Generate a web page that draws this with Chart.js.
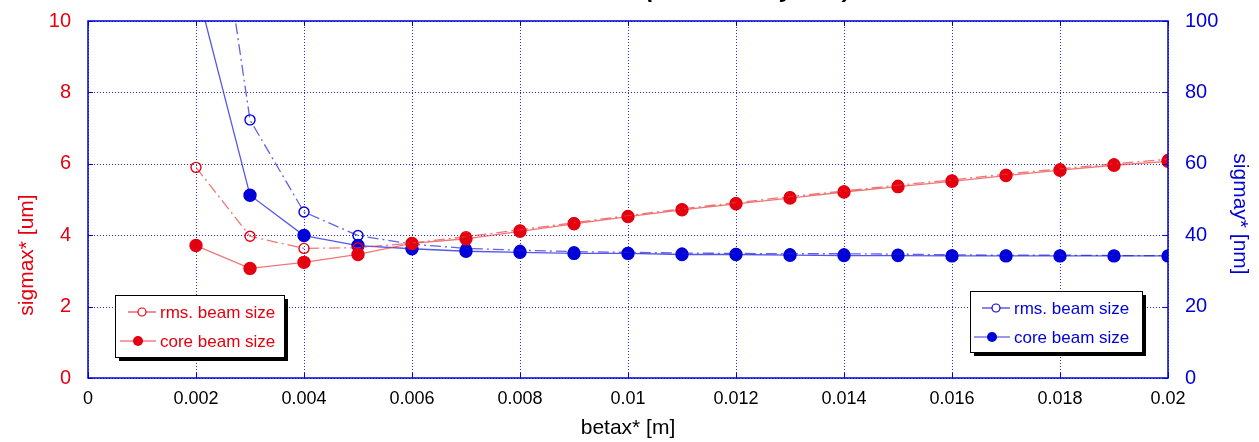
<!DOCTYPE html>
<html>
<head>
<meta charset="utf-8">
<script src="https://cdn.jsdelivr.net/npm/chart.js@4.4.1/dist/chart.umd.min.js"></script>
<style>
  html, body { margin: 0; padding: 0; background: #fff; }
  #wrap { width: 1259px; height: 442px; }
</style>
</head>
<body>
<div id="wrap"><canvas id="c" width="1259" height="442"></canvas></div>
<script>
// betax* [m]
const betax = [0.002, 0.003, 0.004, 0.005, 0.006, 0.007, 0.008, 0.009, 0.010, 0.011,
               0.012, 0.013, 0.014, 0.015, 0.016, 0.017, 0.018, 0.019, 0.020]

// sigmax* [um] (left axis)
const sigxRms  = [5.90, 3.97, 3.63, 3.65, 3.78, 3.96, 4.15, 4.35, 4.55, 4.74,
                  4.91, 5.08, 5.24, 5.40, 5.55, 5.71, 5.86, 6.00, 6.13]
const sigxCore = [3.71, 3.07, 3.24, 3.46, 3.77, 3.90, 4.11, 4.32, 4.52, 4.71,
                  4.88, 5.04, 5.21, 5.36, 5.51, 5.67, 5.82, 5.96, 6.07]

// sigmay* [nm] (right axis)
const sigyRms  = [175, 72.3, 46.5, 39.9, 37.5, 36.3, 35.8, 35.4, 35.2, 35.0,
                  34.9, 34.8, 34.8, 34.7, 34.5, 34.4, 34.4, 34.3, 34.3]
const sigyCore = [110, 51.2, 39.9, 37.1, 36.2, 35.5, 35.2, 34.9, 34.9, 34.6,
                  34.6, 34.4, 34.3, 34.3, 34.2, 34.2, 34.2, 34.2, 34.2]

const legendLabels = ['rms. beam size', 'core beam size']
const xTitle = 'betax* [m]'
const yLeftTitle = 'sigmax* [um]'
const yRightTitle = 'sigmay* [nm]'

const RED = '#e4000f'
const BLUE = '#0000d8'
const GRID = '#2a2af0'
const FONT = '"Liberation Sans", Arial, sans-serif'

const pts = (ys) => betax.map((x, i) => ({ x: x, y: ys[i] }))

function series (label, ys, axis, color, lineColor, open) {
  return {
    label: label,
    data: pts(ys),
    yAxisID: axis,
    borderColor: lineColor,
    borderWidth: 1.3,
    borderDash: open ? [11, 4, 2, 4] : [],
    pointRadius: open ? 5 : 6,
    pointBorderWidth: 1.4,
    pointBorderColor: color,
    pointBackgroundColor: open ? 'rgba(255,255,255,0)' : color,
    pointHoverRadius: 5,
    tension: 0,
    fill: false
  }
}

// dotted grid, frame, axis titles, partial title and the two boxed legends
const decor = {
  id: 'decor',
  beforeDatasetsDraw (chart) {
    const { ctx, chartArea: a } = chart
    const xs = chart.scales.x, yl = chart.scales.yl
    ctx.save()
    ctx.strokeStyle = GRID
    ctx.lineWidth = 1
    ctx.setLineDash([1, 2])
    xs.ticks.forEach(t => {
      const px = Math.round(xs.getPixelForValue(t.value)) + 0.5
      ctx.beginPath(); ctx.moveTo(px, a.top); ctx.lineTo(px, a.bottom); ctx.stroke()
    })
    yl.ticks.forEach(t => {
      const py = Math.round(yl.getPixelForValue(t.value)) + 0.5
      ctx.beginPath(); ctx.moveTo(a.left, py); ctx.lineTo(a.right, py); ctx.stroke()
    })
    ctx.restore()
  },
  afterDatasetsDraw (chart) {
    const { ctx, chartArea: a } = chart
    ctx.save()
    ctx.strokeStyle = BLUE
    ctx.lineWidth = 1.5
    ctx.strokeRect(a.left, a.top, a.right - a.left, a.bottom - a.top)

    // small inside tick marks
    ctx.lineWidth = 1
    const xs = chart.scales.x, yl = chart.scales.yl
    xs.ticks.forEach(t => {
      const px = Math.round(xs.getPixelForValue(t.value)) + 0.5
      ctx.beginPath(); ctx.moveTo(px, a.bottom); ctx.lineTo(px, a.bottom - 5); ctx.stroke()
      ctx.beginPath(); ctx.moveTo(px, a.top); ctx.lineTo(px, a.top + 5); ctx.stroke()
    })
    yl.ticks.forEach(t => {
      const py = Math.round(yl.getPixelForValue(t.value)) + 0.5
      ctx.beginPath(); ctx.moveTo(a.left, py); ctx.lineTo(a.left + 5, py); ctx.stroke()
      ctx.beginPath(); ctx.moveTo(a.right, py); ctx.lineTo(a.right - 5, py); ctx.stroke()
    })
    ctx.restore()
  },
  afterDraw (chart) {
    const { ctx } = chart
    ctx.save()

    // title mostly outside the picture, only descenders show
    ctx.fillStyle = '#000'
    ctx.font = 'italic bold 24px ' + FONT
    ctx.textBaseline = 'alphabetic'
    ctx.textAlign = 'right'
    ctx.fillText('Beam size ', 651, -3)
    ctx.textAlign = 'left'
    ctx.fillText('(const. betay* 0.4)', 646, -3)

    // x title
    ctx.font = '21px ' + FONT
    ctx.textAlign = 'center'
    ctx.textBaseline = 'middle'
    ctx.fillText(xTitle, 628, 428)

    // left y title
    ctx.fillStyle = RED
    ctx.save()
    ctx.translate(27, 255)
    ctx.rotate(-Math.PI / 2)
    ctx.fillText(yLeftTitle, 0, 0)
    ctx.restore()

    // right y title
    ctx.fillStyle = BLUE
    ctx.save()
    ctx.translate(1240, 214)
    ctx.rotate(Math.PI / 2)
    ctx.fillText(yRightTitle, 0, 0)
    ctx.restore()

    drawLegend(ctx, 115, 295, 169, 62, RED, 'rgba(228,0,15,0.75)', 160)
    drawLegend(ctx, 970, 291, 172, 61, BLUE, 'rgba(0,0,216,0.8)', 1014)
    ctx.restore()
  }
}

function drawLegend (ctx, x, y, w, h, color, lineColor, textX) {
  ctx.fillStyle = '#000'
  ctx.fillRect(x + 4, y + 4, w, h)
  ctx.fillStyle = '#fff'
  ctx.fillRect(x, y, w, h)
  ctx.strokeStyle = '#000'
  ctx.lineWidth = 1
  ctx.strokeRect(x + 0.5, y + 0.5, w, h)

  const rows = [y + 17, y + 46]
  ctx.font = '17px ' + FONT
  ctx.textAlign = 'left'
  ctx.textBaseline = 'middle'
  rows.forEach((ry, i) => {
    const open = i === 0
    const x0 = open ? textX - 32 : textX - 40
    ctx.strokeStyle = lineColor
    ctx.lineWidth = 1.2
    ctx.beginPath(); ctx.moveTo(x0, ry); ctx.lineTo(textX - 4, ry); ctx.stroke()
    const cx = (x0 + textX - 4) / 2
    ctx.beginPath()
    ctx.arc(cx, ry, open ? 4 : 5, 0, Math.PI * 2)
    if (open) {
      ctx.fillStyle = '#fff'; ctx.fill()
      ctx.strokeStyle = color; ctx.stroke()
    } else {
      ctx.fillStyle = color; ctx.fill()
    }
    ctx.fillStyle = color
    ctx.fillText(legendLabels[i], textX, ry + 1)
  })
}

const fixWidth = (w) => (scale) => { scale.width = w }

new Chart(document.getElementById('c'), {
  type: 'line',
  data: {
    datasets: [
      series(legendLabels[0], sigxRms, 'yl', RED, 'rgba(232,60,60,0.7)', true),
      series(legendLabels[1], sigxCore, 'yl', RED, 'rgba(232,60,60,0.7)', false),
      series(legendLabels[0], sigyRms, 'yr', BLUE, 'rgba(30,30,225,0.7)', true),
      series(legendLabels[1], sigyCore, 'yr', BLUE, 'rgba(30,30,225,0.75)', false)
    ]
  },
  options: {
    responsive: false,
    animation: false,
    layout: { padding: { top: 17, bottom: 0, left: 0, right: 0 } },
    plugins: {
      legend: { display: false },
      title: { display: false },
      tooltip: { enabled: false }
    },
    scales: {
      x: {
        type: 'linear',
        min: 0,
        max: 0.02,
        afterFit: (s) => { s.height = 64 },
        ticks: {
          stepSize: 0.002,
          color: '#000',
          font: { family: FONT, size: 18 },
          padding: 2,
          maxRotation: 0,
          autoSkip: false,
          callback: (v) => String(+v.toFixed(3))
        },
        grid: { display: false },
        border: { display: false }
      },
      yl: {
        position: 'left',
        min: 0,
        max: 10,
        afterFit: fixWidth(88),
        ticks: {
          stepSize: 2,
          color: RED,
          font: { family: FONT, size: 20 },
          padding: 9
        },
        grid: { display: false },
        border: { display: false }
      },
      yr: {
        position: 'right',
        min: 0,
        max: 100,
        afterFit: fixWidth(91),
        ticks: {
          stepSize: 20,
          color: BLUE,
          font: { family: FONT, size: 20 },
          padding: 9
        },
        grid: { display: false },
        border: { display: false }
      }
    }
  },
  plugins: [decor]
})
</script>
</body>
</html>
